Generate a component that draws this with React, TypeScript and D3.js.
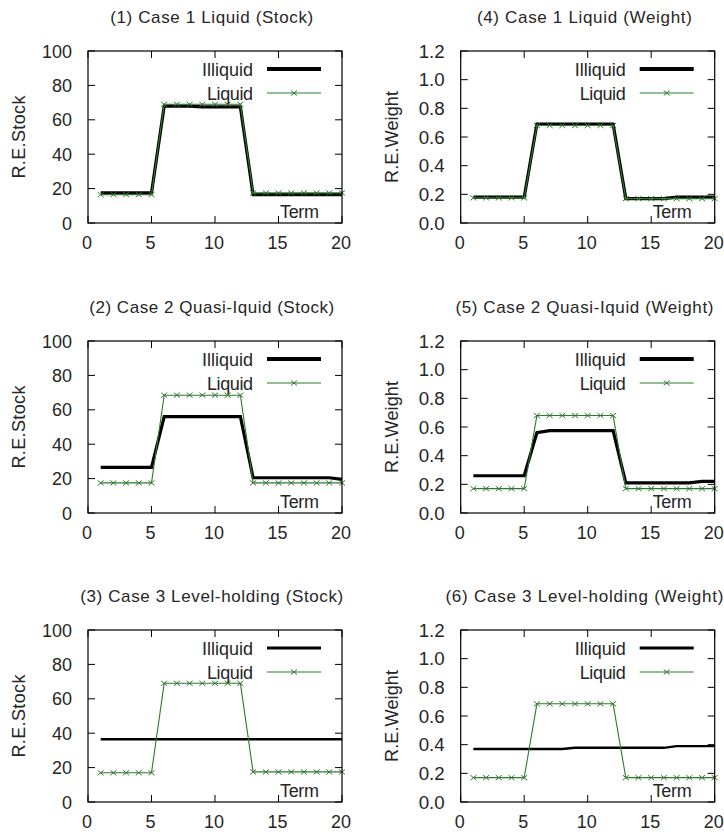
import { useRef, useEffect } from 'react';
import * as d3 from 'd3';

// terms 1..20
const terms = [1, 2, 3, 4, 5, 6, 7, 8, 9, 10, 11, 12, 13, 14, 15, 16, 17, 18, 19, 20];

const xTicks = [0, 5, 10, 15, 20];
const stockTicks = [0, 20, 40, 60, 80, 100];
const weightTicks = [0, 0.2, 0.4, 0.6, 0.8, 1.0, 1.2];

const titles = [
    '(1)  Case 1 Liquid (Stock)',
    '(2)  Case 2 Quasi-Iquid (Stock)',
    '(3)  Case 3 Level-holding (Stock)',
    '(4)  Case 1 Liquid (Weight)',
    '(5)  Case 2 Quasi-Iquid (Weight)',
    '(6)  Case 3 Level-holding (Weight)',
];

// stock panels
const illiquidStock1 = [17.5, 17.5, 17.5, 17.5, 17.5, 68, 68, 68, 67.5, 67.5, 67.5, 67.5, 16.5, 16.5, 16.5, 16.5, 16.5, 16.5, 16.5, 16.5];
const liquidStock1 = [16.5, 16.5, 16.5, 16.5, 16.5, 69, 69, 69, 69, 69, 69, 69, 17.5, 17.5, 17.5, 17.5, 17.5, 17.5, 17.5, 17.5];
const illiquidStock2 = [26.5, 26.5, 26.5, 26.5, 26.5, 56, 56, 56, 56, 56, 56, 56, 20.5, 20.5, 20.5, 20.5, 20.5, 20.5, 20.5, 19.5];
const liquidStock2 = [17.5, 17.5, 17.5, 17.5, 17.5, 68.5, 68.5, 68.5, 68.5, 68.5, 68.5, 68.5, 17.5, 17.5, 17.5, 17.5, 17.5, 17.5, 17.5, 17.5];
const illiquidStock3 = [36.5, 36.5, 36.5, 36.5, 36.5, 36.5, 36.5, 36.5, 36.5, 36.5, 36.5, 36.5, 36.5, 36.5, 36.5, 36.5, 36.5, 36.5, 36.5, 36.5];
const liquidStock3 = [17, 17, 17, 17, 17, 69, 69, 69, 69, 69, 69, 69, 17.5, 17.5, 17.5, 17.5, 17.5, 17.5, 17.5, 17.5];

// weight panels
const illiquidWeight1 = [0.18, 0.18, 0.18, 0.18, 0.18, 0.69, 0.69, 0.69, 0.69, 0.69, 0.69, 0.69, 0.17, 0.17, 0.17, 0.17, 0.18, 0.18, 0.18, 0.18];
const liquidWeight1 = [0.175, 0.175, 0.175, 0.175, 0.175, 0.68, 0.68, 0.68, 0.68, 0.68, 0.68, 0.68, 0.17, 0.17, 0.17, 0.17, 0.17, 0.17, 0.17, 0.17];
const illiquidWeight2 = [0.26, 0.26, 0.26, 0.26, 0.26, 0.56, 0.575, 0.575, 0.575, 0.575, 0.575, 0.575, 0.21, 0.21, 0.21, 0.21, 0.21, 0.21, 0.22, 0.22];
const liquidWeight2 = [0.17, 0.17, 0.17, 0.17, 0.17, 0.68, 0.68, 0.68, 0.68, 0.68, 0.68, 0.68, 0.17, 0.17, 0.17, 0.17, 0.17, 0.17, 0.17, 0.17];
const illiquidWeight3 = [0.37, 0.37, 0.37, 0.37, 0.37, 0.37, 0.37, 0.37, 0.378, 0.378, 0.378, 0.378, 0.378, 0.378, 0.378, 0.378, 0.39, 0.39, 0.39, 0.39];
const liquidWeight3 = [0.17, 0.17, 0.17, 0.17, 0.17, 0.685, 0.685, 0.685, 0.685, 0.685, 0.685, 0.685, 0.17, 0.17, 0.17, 0.17, 0.17, 0.17, 0.17, 0.17];

const GREEN = '#2f7a2f';
const FONT = '"Liberation Sans", Arial, sans-serif';

function App() {
    const ref = useRef(null);

    useEffect(() => {
        d3.select(ref.current).selectAll('*').remove();
        const svg = d3.select(ref.current);

        const colLeft = [88, 460.7];
        const rowTop = [51, 341, 630];
        const width = 254;
        const height = 172;

        // measured widths of the original labels
        const titleLen = [203, 245, 263, 215, 258, 278];

        const panels = [
            { ylabel: 'R.E.Stock', ylen: 83, ill: illiquidStock1, liq: liquidStock1, ticks: stockTicks, fmt: d3.format('d'), lw: 3.2 },
            { ylabel: 'R.E.Stock', ylen: 83, ill: illiquidStock2, liq: liquidStock2, ticks: stockTicks, fmt: d3.format('d'), lw: 3.2 },
            { ylabel: 'R.E.Stock', ylen: 83, ill: illiquidStock3, liq: liquidStock3, ticks: stockTicks, fmt: d3.format('d'), lw: 2.4 },
            { ylabel: 'R.E.Weight', ylen: 92, ill: illiquidWeight1, liq: liquidWeight1, ticks: weightTicks, fmt: d3.format('.1f'), lw: 3.2 },
            { ylabel: 'R.E.Weight', ylen: 92, ill: illiquidWeight2, liq: liquidWeight2, ticks: weightTicks, fmt: d3.format('.1f'), lw: 3.2 },
            { ylabel: 'R.E.Weight', ylen: 92, ill: illiquidWeight3, liq: liquidWeight3, ticks: weightTicks, fmt: d3.format('.1f'), lw: 2.4 },
        ];

        const cross = 'M-3,-2.5L3,2.5M-3,2.5L3,-2.5';

        const label = (sel, size, len, adjust = 'spacing') => sel
            .style('font-family', FONT)
            .style('font-size', `${size}px`)
            .attr('textLength', len)
            .attr('lengthAdjust', adjust)
            .attr('fill', '#262626');

        const numLen = s => d3.sum(String(s).split(''), c => (c === '.' ? 6 : 10));

        panels.forEach((p, k) => {
            const left = colLeft[Math.floor(k / 3)];
            const top = rowTop[k % 3];
            const g = svg.append('g').attr('transform', `translate(${left},${top})`);

            const x = d3.scaleLinear().domain([0, 20]).range([0, width]);
            const y = d3.scaleLinear().domain([0, d3.max(p.ticks)]).range([height, 0]);

            // title
            g.append('text')
                .attr('x', width / 2 - 3.3)
                .attr('y', -28)
                .attr('text-anchor', 'middle')
                .call(label, 17, titleLen[k])
                .text(titles[k]);

            // y label
            g.append('text')
                .attr('transform', `translate(-63,${height / 2}) rotate(-90)`)
                .attr('text-anchor', 'middle')
                .call(label, 18, p.ylen)
                .text(p.ylabel);

            // ticks, inward, mirrored
            const tl = 7;
            p.ticks.forEach(t => {
                g.append('line').attr('x1', 0).attr('x2', tl).attr('y1', y(t)).attr('y2', y(t)).attr('stroke', '#000');
                g.append('line').attr('x1', width).attr('x2', width - tl).attr('y1', y(t)).attr('y2', y(t)).attr('stroke', '#000');
                g.append('text')
                    .attr('x', -16)
                    .attr('y', y(t) + 6.5)
                    .attr('text-anchor', 'end')
                    .call(label, 18, numLen(p.fmt(t)), 'spacingAndGlyphs')
                    .text(p.fmt(t));
            });
            xTicks.forEach(t => {
                g.append('line').attr('x1', x(t)).attr('x2', x(t)).attr('y1', height).attr('y2', height - tl).attr('stroke', '#000');
                g.append('line').attr('x1', x(t)).attr('x2', x(t)).attr('y1', 0).attr('y2', tl).attr('stroke', '#000');
                g.append('text')
                    .attr('x', x(t) - 1)
                    .attr('y', height + 26)
                    .attr('text-anchor', 'middle')
                    .call(label, 18, numLen(t), 'spacingAndGlyphs')
                    .text(t);
            });

            // Term label
            g.append('text')
                .attr('x', width - 23)
                .attr('y', height - 5)
                .attr('text-anchor', 'end')
                .call(label, 18, 39)
                .text('Term');

            const line = d3.line().x((d, i) => x(terms[i])).y(d => y(d));

            g.append('path')
                .datum(p.ill)
                .attr('d', line)
                .attr('fill', 'none')
                .attr('stroke', '#000')
                .attr('stroke-width', p.lw);

            g.append('path')
                .datum(p.liq)
                .attr('d', line)
                .attr('fill', 'none')
                .attr('stroke', GREEN)
                .attr('stroke-width', 1.1);

            g.selectAll('.mk')
                .data(p.liq)
                .enter().append('path')
                .attr('class', 'mk')
                .attr('transform', (d, i) => `translate(${x(terms[i])},${y(d)})`)
                .attr('d', cross)
                .attr('fill', 'none')
                .attr('stroke', GREEN)
                .attr('stroke-width', 1);

            // legend
            const lx1 = width - 75, lx2 = width - 21;
            g.append('text')
                .attr('x', width - 89)
                .attr('y', 24.5)
                .attr('text-anchor', 'end')
                .call(label, 18, 51)
                .text('Illiquid');
            g.append('line').attr('x1', lx1).attr('x2', lx2).attr('y1', 18).attr('y2', 18)
                .attr('stroke', '#000').attr('stroke-width', p.lw + 0.6);
            g.append('text')
                .attr('x', width - 89)
                .attr('y', 49)
                .attr('text-anchor', 'end')
                .call(label, 18, 46)
                .text('Liquid');
            g.append('line').attr('x1', lx1).attr('x2', lx2).attr('y1', 42).attr('y2', 42)
                .attr('stroke', GREEN).attr('stroke-width', 1.1);
            g.append('path')
                .attr('transform', `translate(${(lx1 + lx2) / 2},42)`)
                .attr('d', cross)
                .attr('fill', 'none')
                .attr('stroke', GREEN);

            // frame
            g.append('rect')
                .attr('x', 0).attr('y', 0)
                .attr('width', width).attr('height', height)
                .attr('fill', 'none')
                .attr('stroke', '#000')
                .attr('stroke-width', 1.2);
        });
    }, []);

    return (
        <svg ref={ref} width={724} height={835}
            style={{ position: 'absolute', left: 0, top: 0, background: '#fff' }} />
    );
}

export default App;
